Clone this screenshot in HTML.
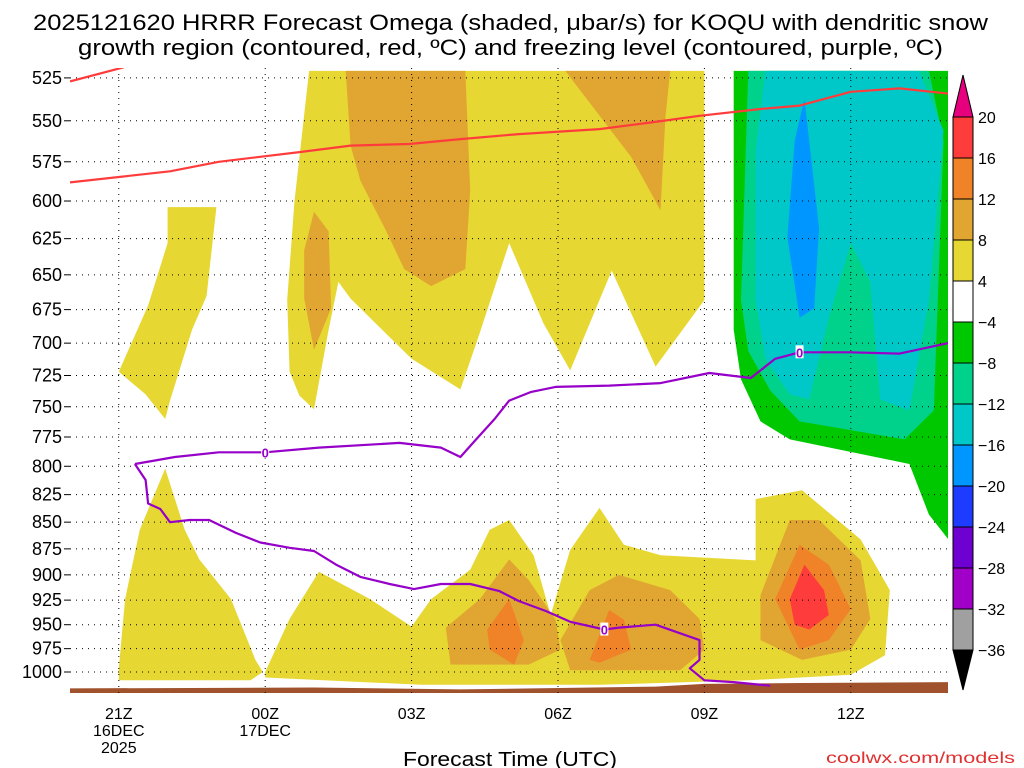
<!DOCTYPE html>
<html><head><meta charset="utf-8"><style>
html,body{margin:0;padding:0;background:#fff;}
svg{display:block;font-family:"Liberation Sans",sans-serif;}
</style></head><body>
<svg id="chart" width="1024" height="768" viewBox="0 0 1024 768" xmlns="http://www.w3.org/2000/svg">
<defs><clipPath id="plotclip"><rect x="70" y="68" width="878" height="625"/></clipPath></defs>
<text x="33" y="30" textLength="955" lengthAdjust="spacingAndGlyphs" font-size="22" fill="#000">2025121620 HRRR Forecast Omega (shaded, μbar/s) for KOQU with dendritic snow</text>
<text x="78" y="55" textLength="865" lengthAdjust="spacingAndGlyphs" font-size="22" fill="#000">growth region (contoured, red, ºC) and freezing level (contoured, purple, ºC)</text>
<g id="shading" clip-path="url(#plotclip)"></g>
<g id="grid"></g>
<g id="lines" clip-path="url(#plotclip)"></g>
<g id="yaxis"></g>
<g id="xaxis"></g>
<g id="cbar"></g>
<text x="403" y="766" textLength="214" lengthAdjust="spacingAndGlyphs" font-size="20" fill="#000">Forecast Time (UTC)</text>
<text x="826" y="763" textLength="189" lengthAdjust="spacingAndGlyphs" font-size="16" fill="#e03030">coolwx.com/models</text>
</svg>
<script>
// ---- data ----
const pressureTicks=[525,550,575,600,625,650,675,700,725,750,775,800,825,850,875,900,925,950,975,1000];
const timeTickHours=[1,4,7,10,13,16];
const timeTickLabels=[["21Z","16DEC","2025"],["00Z","17DEC"],["03Z"],["06Z"],["09Z"],["12Z"]];
const cbarLevels=[20,16,12,8,4,-4,-8,-12,-16,-20,-24,-28,-32,-36];
const cbarColors=["#ff3c3c","#f08228","#e1a532","#e6d732","#ffffff","#00c800","#00d28c","#00c8c8","#0096ff","#1e3cff","#6e00d2","#a000c8","#a0a0a0"];
const yellow1=[[1.0,722],[1.6,672],[2.0,628],[2.0,604],[3.0,604],[2.8,665],[2.5,690],[2.05,745],[1.95,760],[1.55,740]];
const yellowUpper=[[4.9,521],[13.0,521],[13.0,668],[12.0,718],[11.1,647],[10.25,721],[9.7,685],[9.0,628],[8.4,692],[8.0,736],[7.0,712],[5.75,667],[5.5,655],[5.3,690],[5.0,752],[4.7,741],[4.5,722],[4.45,668],[4.6,600]];
const goldUpper1=[[5.65,521],[8.1,521],[8.2,593],[8.1,646],[7.4,658],[6.85,646],[6.45,618],[5.95,587],[5.75,565]];
const goldUpper2=[[10.15,521],[12.3,521],[12.2,548],[12.1,606],[11.5,572]];
const goldSmall=[[4.8,633],[5.0,607],[5.3,620],[5.35,674],[5.0,705],[4.8,667]];
const yellowLowLeft=[[1.0,996],[1.13,924],[1.43,857],[1.95,802],[2.35,857],[2.65,885],[3.3,924],[3.8,987],[3.95,1000],[3.7,1009],[2.25,1009],[1.0,1009]];
const yellowLowBig=[[4.0,1000],[4.5,944],[5.1,897],[6.15,924],[7.0,952],[7.4,924],[8.2,895],[8.6,857],[9.0,848],[9.5,881],[9.85,940],[10.25,876],[10.85,837],[11.35,871],[12.1,881],[14.05,886],[14.05,829],[15.0,821],[16.2,866],[16.8,915],[16.7,982],[16.0,1003],[13.9,1009],[10.85,1014],[7.2,1014],[4.0,1006]];
const goldLow1=[[7.7,953],[8.4,924],[9.0,885],[9.4,905],[9.95,945],[10.05,976],[9.4,992],[7.8,992]];
const goldLow2=[[10.05,966],[10.65,915],[11.25,900],[12.3,915],[12.9,944],[13.0,976],[12.5,998],[10.25,998]];
const goldLow3=[[14.15,920],[14.75,848],[15.35,848],[16.2,886],[16.4,944],[16.0,976],[15.0,987],[14.15,966]];
const orange1=[[8.55,955],[9.0,924],[9.3,966],[9.1,992],[8.6,976]];
const orange2=[[10.65,987],[11.05,935],[11.35,945],[11.5,976],[10.85,990]];
const orange3=[[14.45,924],[14.95,871],[15.55,890],[16.0,934],[15.55,966],[14.95,976]];
const red1=[[14.75,924],[15.05,890],[15.45,915],[15.55,940],[15.15,955],[14.85,950]];
const green1=[[13.6,521],[18,521],[18,866],[17.6,843],[17.2,798],[14.75,777],[14.15,762],[13.75,728],[13.6,690]];
const teal1=[[13.9,521],[17.6,521],[17.9,562],[17.7,753],[17.1,777],[14.95,762],[14.35,737],[13.9,706],[13.75,668]];
const cyan1=[[14.25,521],[17.4,521],[17.9,556],[17.6,668],[17.2,753],[16.6,744],[16.4,655],[16.0,628],[15.55,681],[15.15,744],[14.75,740],[14.25,712],[14.05,668],[14.05,568]];
const blue1=[[15.05,537],[15.35,618],[15.25,674],[14.95,681],[14.7,624],[14.85,562]];
const dgzTop=[[0,527],[1.1,519]];
const dgzBottom=[[0,588],[2.05,581],[3.05,575],[4.7,569],[5.75,565],[6.95,564],[8.0,561],[9.2,558],[10.85,555],[11.9,551],[12.9,547],[14.15,543],[14.95,541],[16.0,533],[17.0,531],[18,534]];
const frzUpper=[[1.33,798],[2.15,792],[3.05,788],[4.0,788],[5.1,784],[6.75,780],[7.6,784],[8.0,792],[8.3,778],[8.7,760],[9.0,745],[9.45,738],[9.95,734],[11.05,733],[12.1,731],[13.1,723],[13.95,727],[14.45,712],[14.95,707],[16.0,707],[17.0,708],[18,700]];
const frzLower=[[1.33,798],[1.55,812],[1.6,833],[1.85,838],[2.05,850],[2.45,848],[2.85,848],[3.4,860],[3.9,869],[4.5,874],[5.0,877],[5.45,890],[5.95,902],[6.55,909],[7.05,914],[7.6,909],[8.2,909],[8.8,916],[9.2,926],[9.75,936],[10.25,947],[10.95,955],[11.25,953],[12.0,950],[12.9,966],[12.9,987],[12.7,996],[13.0,1009],[13.6,1011],[14.35,1015]];
const frzLabels=[[4.0,788],[10.95,955],[14.95,707]];
const groundP=[[0,1018],[5,1017],[8,1019],[12,1016],[13,1013],[15,1012],[18,1011]];

// ---- axes ----
const X0=70,X1=948,PX=48.8;
function xs(h){return X0+h*PX;}
function ys(p){return 672-922*Math.log(1000/p);}
const NS="http://www.w3.org/2000/svg";
function mk(tag,attrs,parent){const e=document.createElementNS(NS,tag);for(const k in attrs)e.setAttribute(k,attrs[k]);parent.appendChild(e);return e;}
function pts(arr){return arr.map(d=>xs(d[0]).toFixed(1)+","+ys(d[1]).toFixed(1)).join(" ");}
const shading=document.getElementById("shading");
function poly(arr,fill,name){const e=mk("polygon",{points:pts(arr),fill:fill},shading);

}
poly(yellow1,"#e6d732","omega-4-8-left");
poly(yellowUpper,"#e6d732","omega-4-8-upper");
poly(goldUpper1,"#e1a532","omega-8-12-upper-a");
poly(goldUpper2,"#e1a532","omega-8-12-upper-b");
poly(goldSmall,"#e1a532","omega-8-12-upper-c");
poly(yellowLowLeft,"#e6d732","omega-4-8-lower-left");
poly(yellowLowBig,"#e6d732","omega-4-8-lower");
poly(goldLow1,"#e1a532","omega-8-12-lower-a");
poly(goldLow2,"#e1a532","omega-8-12-lower-b");
poly(goldLow3,"#e1a532","omega-8-12-lower-c");
poly(orange1,"#f08228","omega-12-16-a");
poly(orange2,"#f08228","omega-12-16-b");
poly(orange3,"#f08228","omega-12-16-c");
poly(red1,"#ff3c3c","omega-16-20");
poly(green1,"#00c800","omega-neg4-neg8");
poly(teal1,"#00d28c","omega-neg8-neg12");
poly(cyan1,"#00c8c8","omega-neg12-neg16");
poly(blue1,"#0096ff","omega-neg16-neg20");
{const g=groundP.concat([[18,1030],[0,1030]]);
const e=mk("polygon",{points:pts(g),fill:"#a0522d"},shading);

}

const grid=document.getElementById("grid");
pressureTicks.forEach(p=>{const e=mk("line",{x1:X0,x2:X1,y1:ys(p),y2:ys(p),stroke:"#000","stroke-width":1,"stroke-dasharray":"1,5"},grid);

});
timeTickHours.forEach(h=>{const e=mk("line",{x1:xs(h),x2:xs(h),y1:68,y2:693,stroke:"#000","stroke-width":1,"stroke-dasharray":"1,5"},grid);

});

const lines=document.getElementById("lines");
function pl(arr,col,name){const e=mk("polyline",{points:pts(arr),fill:"none",stroke:col,"stroke-width":2.2,"stroke-linejoin":"round"},lines);

}
pl(dgzTop,"#ff3c3c","dgz-contour-top");
pl(dgzBottom,"#ff3c3c","dgz-contour");
pl(frzUpper,"#9600c8","freezing-level-upper");
pl(frzLower,"#9600c8","freezing-level-lower");
frzLabels.forEach(d=>{const b=mk("rect",{x:xs(d[0])-4,y:ys(d[1])-7,width:8,height:13,fill:"#fff"},lines);


const t=mk("text",{x:xs(d[0]),y:ys(d[1])+5,"text-anchor":"middle","font-size":13,"font-weight":"bold",fill:"#9600c8"},lines);t.textContent="0";

});

const ya=document.getElementById("yaxis");
pressureTicks.forEach(p=>{const t=mk("text",{x:62,y:ys(p)+6,"text-anchor":"end","font-size":18,fill:"#000"},ya);t.textContent=p;


const l=mk("line",{x1:64,x2:70,y1:ys(p),y2:ys(p),stroke:"#000"},ya);

});
const xa=document.getElementById("xaxis");
timeTickHours.forEach((h,i)=>{timeTickLabels[i].forEach((s,j)=>{const t=mk("text",{x:xs(h),y:719+j*17,"text-anchor":"middle","font-size":16,fill:"#000"},xa);t.textContent=s;

});});

const cb=document.getElementById("cbar");
const CX=953,CW=20;
function cy(i){return 117+i*41.0;}
for(let i=0;i<cbarColors.length;i++){const r=mk("rect",{x:CX,y:cy(i),width:CW,height:41,fill:cbarColors[i],stroke:"#000","stroke-width":1},cb);

}
{const t=mk("polygon",{points:`${CX},117 ${CX+CW},117 ${CX+CW/2},75`,fill:"#e6007e",stroke:"#000"},cb);


const b=mk("polygon",{points:`${CX},${cy(13)} ${CX+CW},${cy(13)} ${CX+CW/2},690`,fill:"#000",stroke:"#000"},cb);

}
cbarLevels.forEach((v,i)=>{const t=mk("text",{x:978,y:cy(i)+6,"font-size":16,fill:"#000"},cb);t.textContent=v<0?"\u2212"+(-v):v;

});
</script>
</body></html>
